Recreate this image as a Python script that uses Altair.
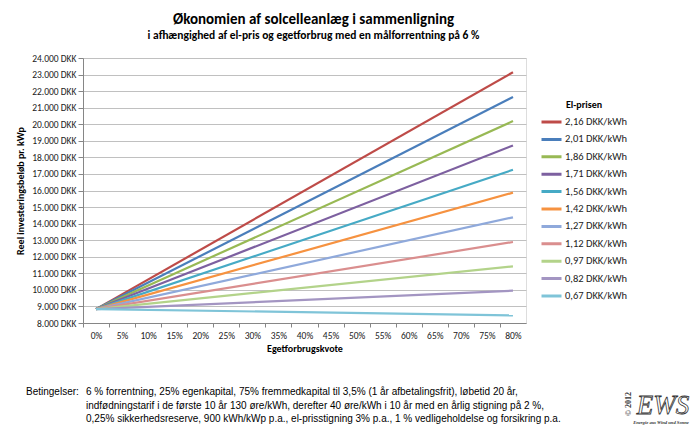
import altair as alt
import pandas as pd

prices = ["2,16 DKK/kWh", "2,01 DKK/kWh", "1,86 DKK/kWh", "1,71 DKK/kWh", "1,56 DKK/kWh",
          "1,42 DKK/kWh", "1,27 DKK/kWh", "1,12 DKK/kWh", "0,97 DKK/kWh", "0,82 DKK/kWh",
          "0,67 DKK/kWh"]
colors = ["#BE4B48", "#4A7EBB", "#98B954", "#7D60A0", "#46AAC5", "#F69240",
          "#8FA9DB", "#DA8E8E", "#B3D38A", "#A395C2", "#7FC4D8"]
quota = [0.0, 0.80]
start_values = [8840] * 11
end_values = [23140, 21650, 20190, 18720, 17250, 15870, 14380, 12890, 11420, 9950, 8460]

x_tick_bounds = [-0.025 + 0.05 * i for i in range(18)]
y_ticks = list(range(8000, 24001, 1000))

footer_label = "Betingelser:"
footer_lines = [
    "6 % forrentning, 25% egenkapital, 75% fremmedkapital til 3,5% (1 år afbetalingsfrit), løbetid 20 år,",
    "indfødningstarif i de første 10 år 130 øre/kWh, derefter 40 øre/kWh i 10 år med en årlig stigning på 2 %,",
    "0,25% sikkerhedsreserve, 900 kWh/kWp p.a., el-prisstigning 3% p.a., 1 % vedligeholdelse og forsikring p.a.",
]

rows = []
for p, s, e in zip(prices, start_values, end_values):
    rows.append({"pris": p, "kvote": quota[0], "beloeb": s})
    rows.append({"pris": p, "kvote": quota[1], "beloeb": e})
df = pd.DataFrame(rows)

FONT = "Carlito, Lato, sans-serif"

lines = alt.Chart(df).mark_line(strokeWidth=2.2).encode(
    x=alt.X("kvote:Q",
            scale=alt.Scale(domain=[-0.025, 0.825], nice=False, zero=False),
            axis=alt.Axis(values=x_tick_bounds,
                          labelExpr="datum.value > 0.81 ? '' : format(datum.value + 0.025, '.0%')",
                          labelOffset=13, labelFlush=False, grid=False, tickSize=4,
                          tickColor="#868686", domainColor="#868686", labelFontSize=9.5,
                          labelColor="#222", labelFont=FONT, labelPadding=3,
                          title="Egetforbrugskvote", titleFont=FONT, titleFontSize=10,
                          titleFontWeight="bold", titleColor="#000", titlePadding=4)),
    y=alt.Y("beloeb:Q",
            scale=alt.Scale(domain=[8000, 24000], nice=False, zero=False),
            axis=alt.Axis(values=y_ticks,
                          labelExpr="replace(format(datum.value, ',d'), ',', '.') + ' DKK'",
                          grid=True, gridColor="#C0C0C0", tickSize=5, tickColor="#868686",
                          domainColor="#868686", labelFontSize=9.5, labelColor="#222",
                          labelFont=FONT, labelPadding=2,
                          title="Reel investeringsbeløb pr. kWp", titleFont=FONT,
                          titleFontSize=10, titleFontWeight="bold", titleColor="#000",
                          titlePadding=6)),
    color=alt.Color("pris:N", sort=prices,
                    scale=alt.Scale(domain=prices, range=colors),
                    legend=alt.Legend(title="El-prisen", orient="none", legendX=457, legendY=42,
                                      symbolType="stroke", symbolSize=400, symbolStrokeWidth=3,
                                      clipHeight=14, rowPadding=3.4, labelOffset=2,
                                      labelFontSize=10.5, labelFont=FONT, labelColor="#222",
                                      titleFont=FONT, titleFontSize=10, titleFontWeight="bold",
                                      titleColor="#000", titleAnchor="middle", titleAlign="center",
                                      titlePadding=5)),
)

layers = [lines]
text_style = dict(align="left", baseline="middle", font="Liberation Sans", fontSize=10, color="#000")
layers.append(alt.Chart(pd.DataFrame({"txt": [footer_label]})).mark_text(**text_style).encode(
    x=alt.value(-57), y=alt.value(334), text="txt:N"))
for i, line in enumerate(footer_lines):
    layers.append(alt.Chart(pd.DataFrame({"txt": [line]})).mark_text(**text_style).encode(
        x=alt.value(3), y=alt.value(334 + 13.5 * i), text="txt:N"))

logo = alt.Chart(pd.DataFrame({"txt": ["EWS"]})).mark_text(
    font="Liberation Serif", fontStyle="italic", fontSize=27, fill="white", stroke="#333",
    strokeWidth=0.8, align="center", baseline="alphabetic").encode(
    x=alt.value(580), y=alt.value(356), text="txt:N")
copy = alt.Chart(pd.DataFrame({"txt": ["© 2012"]})).mark_text(
    font="Liberation Serif", fontWeight="bold", fontSize=8, angle=270, color="#333",
    align="center", baseline="middle").encode(
    x=alt.value(546), y=alt.value(346), text="txt:N")
sublogo = alt.Chart(pd.DataFrame({"txt": ["Energie aus Wind und Sonne"]})).mark_text(
    font="Liberation Serif", fontStyle="italic", fontWeight="bold", fontSize=4.6, color="#333",
    align="center", baseline="middle").encode(
    x=alt.value(578), y=alt.value(364.5), text="txt:N")
layers += [logo, copy, sublogo]

chart = alt.layer(*layers).properties(
    width=443, height=265,
    title=alt.TitleParams(text="Økonomien af solcelleanlæg i sammenligning",
                          subtitle="i afhængighed af el-pris og egetforbrug med en målforrentning på 6 %",
                          font=FONT, fontSize=15, fontWeight="bold", color="#000",
                          subtitleFont=FONT, subtitleFontSize=11.5, subtitleFontWeight="bold",
                          subtitleColor="#000", anchor="middle", dx=9, offset=12,
                          subtitlePadding=3),
    autosize=alt.AutoSizeParams(type="none"),
    padding={"left": 75, "top": 50, "right": 166, "bottom": 103},
).configure_view(stroke=None).configure(background="white")

chart.save("out.html", embed_options={"renderer": "svg", "actions": False})
